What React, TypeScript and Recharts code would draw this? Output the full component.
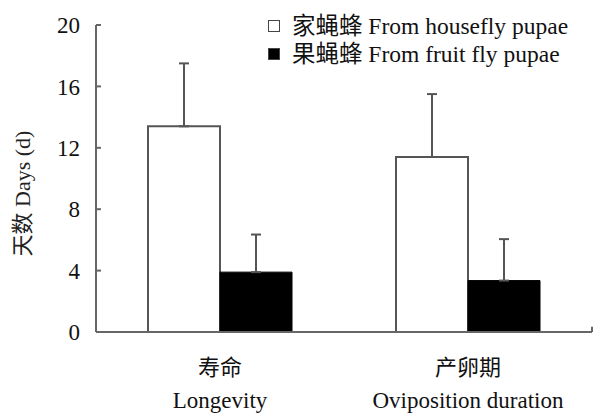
import { BarChart, Bar, XAxis, YAxis, ErrorBar, ReferenceLine } from "recharts";

const categories = ["寿命|Longevity", "产卵期|Oviposition duration"];
const houseflyMeans = [13.4, 11.4];
const houseflySD = [4.1, 4.1];
const fruitflyMeans = [3.9, 3.35];
const fruitflySD = [2.45, 2.7];
const yTicks = [0, 4, 8, 12, 16, 20];

const seriesNames = ["家蝇蜂 From housefly pupae", "果蝇蜂 From fruit fly pupae"];

const data = categories.map((c, i) => ({
  name: c,
  housefly: houseflyMeans[i],
  houseflyErr: [0, houseflySD[i]],
  fruitfly: fruitflyMeans[i],
  fruitflyErr: [0, fruitflySD[i]],
}));

const FONT = "'Liberation Serif', 'Times New Roman', 'Noto Sans CJK SC', serif";
const AXIS = "#666";

const CategoryTick = ({ x, y, payload }: any) => {
  const [zh, en] = String(payload.value).split("|");
  return (
    <g transform={`translate(${x},${y})`}>
      <text x={0} y={35} textAnchor="middle" fill="#111" fontSize={22} fontFamily={FONT}>
        {zh}
      </text>
      <text x={0} y={68} textAnchor="middle" fill="#111" fontSize={23} fontFamily={FONT}>
        {en}
      </text>
    </g>
  );
};

const LegendBox = () => (
  <div
    style={{
      position: "absolute",
      left: 268,
      top: 12,
      fontFamily: FONT,
      fontSize: 23.5,
      color: "#111",
      lineHeight: "28px",
    }}
  >
    {seriesNames.map((n, i) => (
      <div key={n} style={{ display: "flex", alignItems: "center", whiteSpace: "nowrap" }}>
        <span
          style={{
            display: "inline-block",
            width: 10,
            height: 10,
            border: "1.5px solid #444",
            background: i === 0 ? "#fff" : "#000",
            marginRight: 12,
          }}
        />
        {n}
      </div>
    ))}
  </div>
);

export default function App() {
  return (
    <div style={{ position: "absolute", left: 0, top: 0, width: 594, height: 414, background: "#fff" }}>
      <BarChart
        width={594}
        height={414}
        data={data}
        margin={{ top: 25, right: 2, left: 0, bottom: 0 }}
        barGap={0}
        barSize={72}
      >
        <XAxis
          dataKey="name"
          height={82}
          tickLine={false}
          axisLine={{ stroke: AXIS, strokeWidth: 2 }}
          tick={<CategoryTick />}
          interval={0}
        />
        <XAxis xAxisId="mid" type="number" domain={[0, 2]} hide />
        <YAxis
          domain={[0, 20]}
          ticks={yTicks}
          width={96}
          tickSize={-5}
          tickMargin={21}
          axisLine={{ stroke: AXIS, strokeWidth: 2 }}
          tickLine={{ stroke: AXIS, strokeWidth: 2 }}
          tick={{ fill: "#111", fontSize: 23, fontFamily: FONT }}
          label={{
            value: "天数 Days (d)",
            angle: -90,
            position: "insideLeft",
            dx: 17,
            dy: 15,
            style: { fill: "#222", fontSize: 22, fontFamily: FONT, textAnchor: "middle" },
          }}
        />
        <ReferenceLine
          xAxisId="mid"
          segment={[
            { x: 1, y: 0 },
            { x: 1, y: 0.35 },
          ]}
          stroke={AXIS}
          strokeWidth={2}
        />
        <Bar dataKey="housefly" fill="#fff" stroke="#555" strokeWidth={2} isAnimationActive={false}>
          <ErrorBar dataKey="houseflyErr" width={5} stroke="#555" strokeWidth={2} />
        </Bar>
        <Bar dataKey="fruitfly" fill="#000" stroke="#000" strokeWidth={1} isAnimationActive={false}>
          <ErrorBar dataKey="fruitflyErr" width={5} stroke="#555" strokeWidth={2} />
        </Bar>
      </BarChart>
      <LegendBox />
    </div>
  );
}
